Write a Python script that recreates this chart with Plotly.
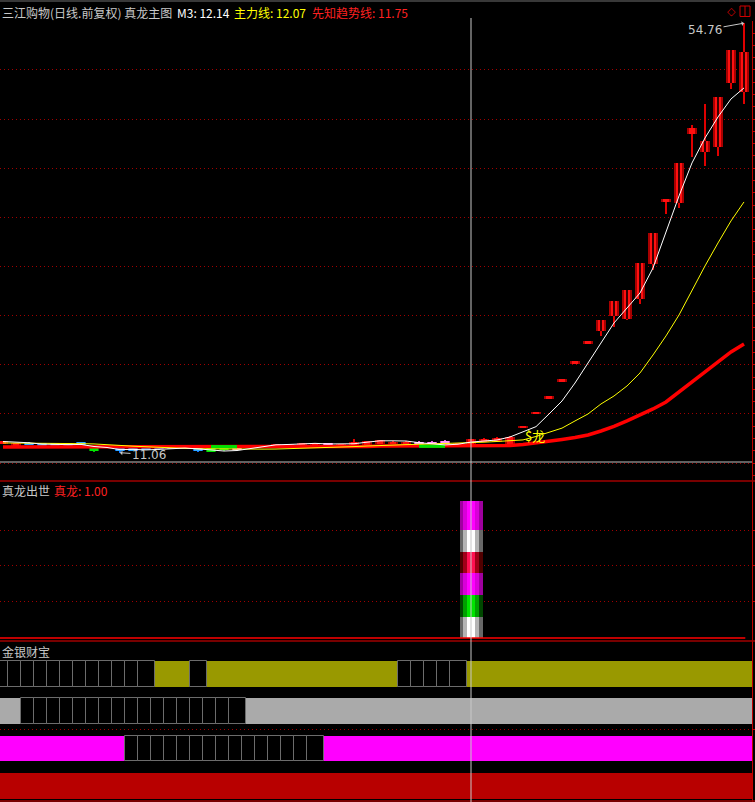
import plotly.graph_objects as go

# ---------------- data ----------------
opens = [12.05, 11.85, 12.10, 11.98, 11.98, 12.00, 12.10, 11.74, 11.74, 11.58,
         11.50, 11.55, 11.70, 11.72, 11.72, 11.52, 11.52, 11.72, 11.58, 11.58,
         11.65, 11.68, 11.70, 11.70, 11.68, 12.08, 11.70, 11.85, 11.90, 11.98,
         12.00, 11.95, 12.20, 12.20, 12.30, 11.75, 11.95, 12.20, 12.20, 11.90,
         13.71, 15.13, 16.70, 18.43, 20.26, 22.29, 23.48, 25.00, 24.67, 26.70,
         30.29, 36.77, 36.50, 43.50, 41.70, 42.20, 48.70, 47.79]
highs = [12.30, 12.10, 12.12, 12.00, 12.00, 12.02, 12.12, 11.80, 11.76, 11.60,
         11.52, 11.58, 11.72, 11.75, 11.74, 11.54, 11.54, 11.74, 11.60, 11.82,
         11.86, 11.95, 11.96, 12.05, 12.10, 12.10, 12.00, 12.46, 12.28, 12.38,
         12.30, 12.22, 12.22, 12.22, 12.32, 12.10, 12.50, 12.60, 12.70, 12.72,
         13.71, 15.13, 16.70, 18.43, 20.26, 22.29, 24.56, 26.50, 27.62, 30.36,
         33.42, 36.77, 40.50, 44.40, 46.54, 47.25, 52.03, 54.76]
lows = [12.00, 11.80, 11.85, 11.80, 11.82, 11.85, 11.88, 11.12, 11.55, 11.06,
        11.30, 11.35, 11.35, 11.50, 11.55, 11.16, 11.12, 11.25, 11.30, 11.55,
        11.60, 11.65, 11.66, 11.68, 11.65, 11.70, 11.68, 11.82, 11.88, 11.95,
        11.98, 11.90, 11.82, 11.80, 11.82, 11.72, 11.90, 12.15, 12.15, 11.85,
        13.71, 15.13, 16.70, 18.43, 20.26, 22.29, 22.97, 23.88, 24.55, 26.20,
        29.70, 35.35, 36.00, 41.20, 40.26, 41.28, 48.07, 46.53]
closes = [12.25, 12.05, 11.90, 11.85, 11.88, 11.90, 11.92, 11.26, 11.60, 11.26,
          11.35, 11.40, 11.45, 11.55, 11.60, 11.20, 11.18, 11.30, 11.36, 11.80,
          11.85, 11.92, 11.94, 12.02, 12.08, 11.75, 11.95, 12.20, 12.25, 12.35,
          12.20, 12.20, 11.85, 11.85, 11.85, 12.05, 12.46, 12.50, 12.55, 12.70,
          13.71, 15.13, 16.70, 18.43, 20.26, 22.29, 24.56, 26.50, 27.62, 30.36,
          33.42, 36.77, 40.50, 44.10, 42.80, 47.25, 52.03, 51.83]
# candle colour class: r=red, b=blue, g=green, m=pink
kcolors = ['r', 'r', 'b', 'b', 'b', 'b', 'b', 'g', 'b', 'b',
           'b', 'b', 'b', 'b', 'b', 'b', 'g', 'g', 'm', 'r',
           'r', 'r', 'r', 'r', 'r', 'm', 'r', 'r', 'r', 'r',
           'r', 'r', 'm', 'm', 'm', 'r', 'r', 'r', 'r', 'r',
           'r', 'r', 'r', 'r', 'r', 'r', 'r', 'r', 'r', 'r',
           'r', 'r', 'r', 'r', 'r', 'r', 'r', 'r']
m3 = [12.20, 12.15, 12.07, 11.93, 11.88, 11.88, 11.90, 11.69, 11.59, 11.37,
      11.40, 11.34, 11.40, 11.47, 11.53, 11.45, 11.33, 11.23, 11.28, 11.49,
      11.67, 11.86, 11.90, 11.96, 12.01, 11.95, 11.93, 11.97, 12.13, 12.27,
      12.27, 12.25, 12.08, 11.97, 11.85, 11.92, 12.14, 12.25, 12.35, 12.66,
      13.22, 13.71, 15.00, 16.32, 18.15, 20.19, 22.33, 24.26, 25.78, 27.31,
      29.85, 33.62, 37.18, 40.54, 43.08, 45.22, 47.05, 48.17]
zhuli = [12.05, 12.05, 12.03, 12.02, 12.00, 12.00, 11.98, 11.95, 11.90, 11.80,
         11.72, 11.65, 11.60, 11.55, 11.50, 11.46, 11.44, 11.42, 11.42, 11.42,
         11.42, 11.43, 11.46, 11.50, 11.55, 11.60, 11.64, 11.68, 11.74, 11.80,
         11.86, 11.92, 11.95, 11.97, 12.00, 12.03, 12.07, 12.13, 12.20, 12.28,
         12.36, 12.71, 13.12, 13.56, 14.29, 15.00, 16.02, 16.83, 17.85, 19.17,
         21.00, 22.94, 25.07, 27.62, 30.06, 32.40, 34.64, 36.57]
xianzhi = [11.64, 11.64, 11.64, 11.64, 11.64, 11.64, 11.64, 11.64, 11.64, 11.64,
           11.64, 11.64, 11.64, 11.66, 11.66, 11.66, 11.66, 11.66, 11.66, 11.66,
           11.66, 11.70, 11.70, 11.70, 11.70, 11.70, 11.70, 11.70, 11.70, 11.73,
           11.73, 11.73, 11.73, 11.73, 11.73, 11.73, 11.75, 11.76, 11.77, 11.80,
           11.90, 12.05, 12.20, 12.41, 12.61, 12.86, 13.27, 13.73, 14.29, 14.90,
           15.51, 16.22, 17.24, 18.31, 19.32, 20.39, 21.31, 22.12]
# 1 where the trend line is drawn green
xianzhi_green = [0, 0, 0, 0, 0, 0, 0, 0, 0, 0,
                 0, 0, 0, 0, 0, 0, 1, 1, 1, 0,
                 0, 0, 0, 0, 0, 0, 0, 0, 0, 0,
                 0, 0, 1, 1, 1, 0, 0, 0, 0, 0,
                 0, 0, 0, 0, 0, 0, 0, 0, 0, 0,
                 0, 0, 0, 0, 0, 0, 0, 0]
zhenlong = [0, 0, 0, 0, 0, 0, 0, 0, 0, 0,
            0, 0, 0, 0, 0, 0, 0, 0, 0, 0,
            0, 0, 0, 0, 0, 0, 0, 0, 0, 0,
            0, 0, 0, 0, 0, 0, 1.0, 0, 0, 0,
            0, 0, 0, 0, 0, 0, 0, 0, 0, 0,
            0, 0, 0, 0, 0, 0, 0, 0]
# 金银财宝 rows: 1 = coloured cell, 0 = empty box
row_gold = [0, 0, 0, 0, 0, 0, 0, 0, 0, 0,
            0, 0, 1, 1, 1, 0, 1, 1, 1, 1,
            1, 1, 1, 1, 1, 1, 1, 1, 1, 1,
            1, 0, 0, 0, 0, 0, 1, 1, 1, 1,
            1, 1, 1, 1, 1, 1, 1, 1, 1, 1,
            1, 1, 1, 1, 1, 1, 1, 1]
row_silver = [1, 1, 0, 0, 0, 0, 0, 0, 0, 0,
              0, 0, 0, 0, 0, 0, 0, 0, 0, 1,
              1, 1, 1, 1, 1, 1, 1, 1, 1, 1,
              1, 1, 1, 1, 1, 1, 1, 1, 1, 1,
              1, 1, 1, 1, 1, 1, 1, 1, 1, 1,
              1, 1, 1, 1, 1, 1, 1, 1]
row_cai = [1, 1, 1, 1, 1, 1, 1, 1, 1, 1,
           0, 0, 0, 0, 0, 0, 0, 0, 0, 0,
           0, 0, 0, 0, 0, 1, 1, 1, 1, 1,
           1, 1, 1, 1, 1, 1, 1, 1, 1, 1,
           1, 1, 1, 1, 1, 1, 1, 1, 1, 1,
           1, 1, 1, 1, 1, 1, 1, 1]
row_bao = [1, 1, 1, 1, 1, 1, 1, 1, 1, 1,
           1, 1, 1, 1, 1, 1, 1, 1, 1, 1,
           1, 1, 1, 1, 1, 1, 1, 1, 1, 1,
           1, 1, 1, 1, 1, 1, 1, 1, 1, 1,
           1, 1, 1, 1, 1, 1, 1, 1, 1, 1,
           1, 1, 1, 1, 1, 1, 1, 1]
PRICE_GRID_STEP = 5
SUB_GRID = [0.263, 0.526, 0.788]
ROW_GRID = [2.5]
SEG = [0, 0.153, 0.314, 0.474, 0.628, 0.788, 1.0]
SEG_COLORS = ['w', 'g', 'm', 'r', 'w', 'm']
CROSS = 36

# ---------------- styles ----------------
W, H = 755, 802
def py(px):
    return 1 - px / H
def px_x(px):
    return px / W

K_STYLE = {'r': ('#a80000', '#ff1010', '#e00000'),
           'b': ('#0058e0', '#30a8ff', '#1070ff'),
           'g': ('#008800', '#00e800', '#00c000'),
           'm': ('#d040d0', '#ff98ff', '#e060e0')}
K_INNER_W = {'r': 0.46, 'b': 0.6, 'g': 0.6, 'm': 0.6}
SEG_STYLE = {'w': ('#686868', '#b4b4b4', '#ffffff'),
             'g': ('#004800', '#00a000', '#00e400'),
             'm': ('#a000a0', '#d800d8', '#ff00ff'),
             'r': ('#500000', '#a00018', '#ff1050')}

n = len(closes)
xs = list(range(n))
fig = go.Figure()

# ---- main panel lines (drawn under candles) ----
fig.add_trace(go.Scatter(x=xs, y=xianzhi, mode='lines', line=dict(color='#ff0000', width=3.5),
                         hoverinfo='skip'))
g_y = [v if f else None for v, f in zip(xianzhi, xianzhi_green)]
fig.add_trace(go.Scatter(x=xs, y=g_y, mode='lines', line=dict(color='#00e000', width=3.5),
                         connectgaps=False, hoverinfo='skip'))
fig.add_trace(go.Scatter(x=xs, y=zhuli, mode='lines', line=dict(color='#ffff00', width=1),
                         hoverinfo='skip'))
fig.add_trace(go.Scatter(x=xs, y=m3, mode='lines', line=dict(color='#ffffff', width=1),
                         hoverinfo='skip'))

# ---- candles ----
MINH = 0.2
body_base, body_h = [], []
for o, c in zip(opens, closes):
    h = abs(c - o)
    if h < MINH:
        body_base.append((o + c) / 2 - MINH / 2)
        body_h.append(MINH)
    else:
        body_base.append(min(o, c))
        body_h.append(h)
wick_h = [hi - lo for hi, lo in zip(highs, lows)]

fig.add_trace(go.Bar(x=xs, y=wick_h, base=lows, width=0.22,
                     marker=dict(color=[K_STYLE[k][2] for k in kcolors], line=dict(width=0)),
                     hoverinfo='skip'))
fig.add_trace(go.Bar(x=xs, y=body_h, base=body_base, width=0.84,
                     marker=dict(color=[K_STYLE[k][0] for k in kcolors], line=dict(width=0)),
                     hoverinfo='skip'))
fig.add_trace(go.Bar(x=xs, y=body_h, base=body_base, width=[K_INNER_W[k] for k in kcolors],
                     marker=dict(color=[K_STYLE[k][1] for k in kcolors], line=dict(width=0)),
                     hoverinfo='skip'))
cl_x = [i for i in xs if kcolors[i] == 'r' and abs(closes[i] - opens[i]) >= 1.0]
fig.add_trace(go.Bar(x=cl_x, y=[body_h[i] for i in cl_x], base=[body_base[i] for i in cl_x],
                     width=0.09, marker=dict(color='#380000', line=dict(width=0)),
                     hoverinfo='skip'))

# ---- 真龙出世 histogram (y2) ----
zx = [i for i in xs if zhenlong[i] > 0]
for layer, wdt in enumerate([1.77, 1.2, 0.6]):
    for k, sc in enumerate(SEG_COLORS):
        fig.add_trace(go.Bar(x=zx, y=[zhenlong[i] * (SEG[k + 1] - SEG[k]) for i in zx],
                             base=[zhenlong[i] * SEG[k] for i in zx], width=wdt,
                             marker=dict(color=SEG_STYLE[sc][layer], line=dict(width=0)),
                             yaxis='y2', hoverinfo='skip'))

# ---- 金银财宝 rows (y3) ----
rows = [(row_gold, 4, '#999900'), (row_silver, 3, '#aaaaaa'),
        (row_cai, 2, '#ff00ff'), (row_bao, 1, '#b80000')]
RH = 0.695
for row, pos, col in rows:
    fx = [i for i in xs if row[i] == 1]
    fig.add_trace(go.Bar(x=fx, y=[RH] * len(fx), base=[pos - RH / 2] * len(fx),
                         width=1.26, offset=-0.59,
                         marker=dict(color=col, line=dict(width=0)),
                         yaxis='y3', hoverinfo='skip'))
for row, pos, col in rows:
    ex = [i for i in xs if row[i] == 0]
    if ex:
        fig.add_trace(go.Bar(x=ex, y=[RH] * len(ex), base=[pos - RH / 2] * len(ex),
                             width=1.26, offset=-0.59,
                             marker=dict(color='#000000', line=dict(width=1, color='#6c6c6c')),
                             yaxis='y3', hoverinfo='skip'))

# ---------------- layout ----------------
RED_AX = '#c00000'
GRID = '#a00000'
font_cn = "Noto Sans CJK SC"

imax = highs.index(max(highs))
imin = lows.index(min(lows))

annotations = [
    dict(x=0, y=py(12.5), xref='paper', yref='paper', xanchor='left', yanchor='middle',
         text='三江购物(日线.前复权) 真龙主图', showarrow=False,
         font=dict(family=font_cn, size=12, color='#c8c8c8')),
    dict(x=px_x(175), y=py(12.5), xref='paper', yref='paper', xanchor='left', yanchor='middle',
         text=f'M3: {m3[CROSS]:.2f}', showarrow=False,
         font=dict(family=font_cn, size=12, color='#ffffff')),
    dict(x=px_x(232), y=py(12.5), xref='paper', yref='paper', xanchor='left', yanchor='middle',
         text=f'主力线: {zhuli[CROSS]:.2f}', showarrow=False,
         font=dict(family=font_cn, size=12, color='#ffff00')),
    dict(x=px_x(310), y=py(12.5), xref='paper', yref='paper', xanchor='left', yanchor='middle',
         text=f'先知趋势线: {xianzhi[CROSS]:.2f}', showarrow=False,
         font=dict(family=font_cn, size=12, color='#ff2020')),
    dict(x=0, y=py(490), xref='paper', yref='paper', xanchor='left', yanchor='middle',
         text='真龙出世', showarrow=False,
         font=dict(family=font_cn, size=12, color='#c8c8c8')),
    dict(x=px_x(52), y=py(490), xref='paper', yref='paper', xanchor='left', yanchor='middle',
         text=f'真龙: {zhenlong[CROSS]:.2f}', showarrow=False,
         font=dict(family=font_cn, size=12, color='#ff2020')),
    dict(x=0, y=py(651), xref='paper', yref='paper', xanchor='left', yanchor='middle',
         text='金银财宝', showarrow=False,
         font=dict(family=font_cn, size=12, color='#c8c8c8')),
    dict(x=imax, y=highs[imax], xref='x', yref='y', text=f'{highs[imax]:.2f}',
         showarrow=True, ax=-39, ay=7, arrowhead=1, arrowsize=0.8, arrowwidth=1,
         arrowcolor='#c8c8c8', font=dict(family='DejaVu Sans', size=12, color='#c8c8c8')),
    dict(x=imin, y=lows[imin], xref='x', yref='y', text=f'{lows[imin]:.2f}',
         showarrow=True, ax=29, ay=2, arrowhead=1, arrowsize=0.8, arrowwidth=1,
         arrowcolor='#c8c8c8', font=dict(family='DejaVu Sans', size=12, color='#c8c8c8')),
    dict(x=px_x(535), y=py(435), xref='paper', yref='paper', xanchor='center', yanchor='middle',
         text='$龙', showarrow=False,
         font=dict(family=font_cn, size=13, color='#ffff00')),
    dict(x=px_x(731), y=py(11.5), xref='paper', yref='paper', xanchor='center', yanchor='middle',
         text='◇', showarrow=False,
         font=dict(family='DejaVu Sans', size=11, color='#d00000')),
]

shapes = [
    # top grey border
    dict(type='line', xref='paper', yref='paper', x0=0, x1=1, y0=py(1), y1=py(1),
         line=dict(color='#707070', width=1)),
    # grey base line in main panel
    dict(type='line', xref='paper', yref='paper', x0=0, x1=752 / W, y0=py(462), y1=py(462),
         line=dict(color='#c0c0c0', width=1)),
    # panel separators
    dict(type='line', xref='paper', yref='paper', x0=0, x1=1, y0=py(481), y1=py(481),
         line=dict(color='#a00000', width=1.5)),
    dict(type='line', xref='paper', yref='paper', x0=0, x1=1, y0=py(641), y1=py(641),
         line=dict(color='#a00000', width=1.5)),
    dict(type='line', xref='paper', yref='paper', x0=0, x1=1, y0=py(801), y1=py(801),
         line=dict(color='#a00000', width=1.5)),
    # zero line of 真龙出世
    dict(type='line', xref='x', yref='y2', x0=-0.3, x1=57.1, y0=0, y1=0,
         line=dict(color='#ff0000', width=1.5)),
    # crosshair
    dict(type='line', xref='x', yref='paper', x0=CROSS, x1=CROSS, y0=0, y1=py(18),
         line=dict(color='#c8c8c8', width=1), layer='above'),
    # window icon
    dict(type='rect', xref='paper', yref='paper', x0=px_x(740), x1=px_x(750),
         y0=py(16.5), y1=py(6), line=dict(color='#d00000', width=1)),
    dict(type='line', xref='paper', yref='paper', x0=px_x(745), x1=px_x(745),
         y0=py(16.5), y1=py(6), line=dict(color='#d00000', width=1)),
]

common_y = dict(side='right', showline=True, linecolor=RED_AX, linewidth=1,
                showticklabels=False, zeroline=False, showgrid=True,
                gridcolor=GRID, griddash='1px,3px', gridwidth=1,
                ticks='outside', ticklen=4, tickcolor=RED_AX, fixedrange=True)

fig.update_layout(
    width=W, height=H, autosize=False,
    margin=dict(l=0, r=0, t=0, b=0, pad=0),
    paper_bgcolor='#000000', plot_bgcolor='#000000',
    showlegend=False, barmode='overlay', bargap=0,
    xaxis=dict(domain=[0, 752 / W], range=[-0.2308, 57.615], visible=False, fixedrange=True),
    yaxis=dict(domain=[py(481), py(20.9)], range=[8.18, 54.99],
               tickmode='linear', tick0=0, dtick=PRICE_GRID_STEP,
               minor=dict(ticks='outside', ticklen=3, tickcolor=RED_AX, dtick=1.25, showgrid=False),
               **common_y),
    yaxis2=dict(domain=[py(641), py(481)], range=[-0.0219, 1.146], anchor='x',
                tickmode='array', tickvals=SUB_GRID, **common_y),
    yaxis3=dict(domain=[0, py(641)], range=[0.5635, 4.888], anchor='x',
                tickmode='array', tickvals=ROW_GRID, **common_y),
    annotations=annotations, shapes=shapes,
)

fig.write_html("out.html", config={'displayModeBar': False},
               post_script="document.body.style.margin='0';document.body.style.background='#000';")
